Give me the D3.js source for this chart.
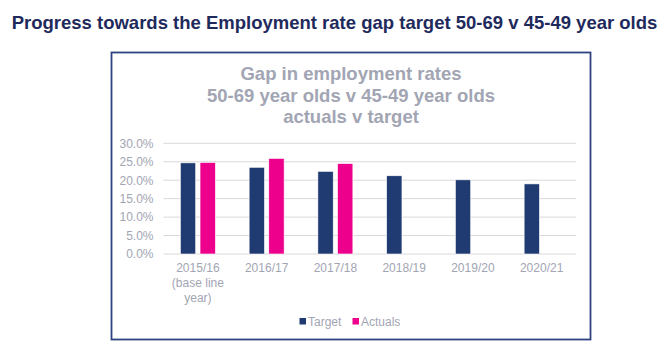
<!DOCTYPE html>
<html>
<head>
<meta charset="utf-8">
<script src="https://cdn.jsdelivr.net/npm/d3@7"></script>
<style>
  body { margin: 0; background: #fff; }
  text { font-family: "Liberation Sans", Arial, sans-serif; }
</style>
</head>
<body>
<svg id="chart"></svg>
<script>
// data
const years = ["2015/16", "2016/17", "2017/18", "2018/19", "2019/20", "2020/21"];
const target = [24.7, 23.5, 22.4, 21.2, 20.1, 19.0];
const actuals = [24.8, 25.9, 24.5, null, null, null];
const seriesNames = ["Target", "Actuals"];
const yTicks = [0, 5, 10, 15, 20, 25, 30];

const colors = { Target: "#203A72", Actuals: "#EC008C" };
const grey = "#A2A5B3";

const svg = d3.select("#chart")
    .attr("width", 669)
    .attr("height", 352);

// page heading
svg.append("text")
    .attr("x", 334.5)
    .attr("y", 29)
    .attr("text-anchor", "middle")
    .attr("font-size", "18.5px")
    .attr("font-weight", "bold")
    .attr("fill", "#1F2A5C")
    .text("Progress towards the Employment rate gap target 50-69 v 45-49 year olds");

// chart frame
svg.append("rect")
    .attr("x", 111.5)
    .attr("y", 52.5)
    .attr("width", 479)
    .attr("height", 287)
    .attr("fill", "#fff")
    .attr("stroke", "#2E4380")
    .attr("stroke-width", 1.8);

// chart title
const titleLines = ["Gap in employment rates", "50-69 year olds v 45-49 year olds", "actuals v target"];
svg.append("g").selectAll("text")
    .data(titleLines)
    .join("text")
    .attr("x", 351)
    .attr("y", (d, i) => 80 + i * 21.5)
    .attr("text-anchor", "middle")
    .attr("font-size", "18.5px")
    .attr("font-weight", "bold")
    .attr("fill", grey)
    .text(d => d);

const plot = { left: 163.5, right: 576, top: 143.3, bottom: 254 };

const x0 = d3.scaleBand()
    .domain(years)
    .range([plot.left, plot.right]);

const x1 = d3.scaleBand()
    .domain(seriesNames)
    .range([0, 35])
    .paddingInner(0.22);

const y = d3.scaleLinear()
    .domain([0, 30])
    .range([plot.bottom, plot.top]);

// gridlines
svg.append("g").selectAll("line")
    .data(yTicks)
    .join("line")
    .attr("x1", plot.left)
    .attr("x2", plot.right)
    .attr("y1", d => y(d))
    .attr("y2", d => y(d))
    .attr("stroke", "#D9D9D9")
    .attr("stroke-width", 1);

// y axis labels
const yaxis = d3.axisLeft(y)
    .tickValues(yTicks)
    .tickFormat(d => d.toFixed(1) + "%")
    .tickSize(0)
    .tickPadding(10);

svg.append("g")
    .attr("transform", `translate(${plot.left},0)`)
    .call(yaxis)
    .call(g => g.select(".domain").remove())
    .selectAll("text")
    .attr("font-size", "12px")
    .attr("font-family", "Liberation Sans, Arial, sans-serif")
    .attr("fill", grey);

// bars
const rows = years.map((yr, i) => ({ year: yr, Target: target[i], Actuals: actuals[i] }));

const groups = svg.append("g").selectAll("g")
    .data(rows)
    .join("g")
    .attr("transform", d => `translate(${x0(d.year) + x0.bandwidth() / 2 - 17.5},0)`);

groups.selectAll("rect")
    .data(d => seriesNames.filter(s => d[s] != null).map(s => ({ key: s, value: d[s] })))
    .join("rect")
    .attr("x", d => x1(d.key))
    .attr("y", d => y(d.value))
    .attr("width", x1.bandwidth())
    .attr("height", d => y(0) - y(d.value))
    .attr("fill", d => colors[d.key])
    .attr("stroke", "#fff")
    .attr("stroke-width", 0.6);

// x axis labels
const xaxis = d3.axisBottom(x0).tickSize(0).tickPadding(9);
const xg = svg.append("g")
    .attr("transform", `translate(0,${plot.bottom})`)
    .call(xaxis);
xg.select(".domain").remove();
xg.selectAll("text")
    .attr("font-size", "12px")
    .attr("font-family", "Liberation Sans, Arial, sans-serif")
    .attr("fill", grey);

// extra lines under the base year label
const baseNote = ["(base line", "year)"];
svg.append("g").selectAll("text")
    .data(baseNote)
    .join("text")
    .attr("x", x0(years[0]) + x0.bandwidth() / 2)
    .attr("y", (d, i) => 287 + i * 14.5)
    .attr("text-anchor", "middle")
    .attr("font-size", "12px")
    .attr("fill", grey)
    .text(d => d);

// legend
const legend = svg.append("g");
const legendX = [299.5, 352.5];
seriesNames.forEach((s, i) => {
    legend.append("rect")
        .attr("x", legendX[i])
        .attr("y", 318)
        .attr("width", 6.5)
        .attr("height", 6.5)
        .attr("fill", colors[s]);
    legend.append("text")
        .attr("x", legendX[i] + 8.5)
        .attr("y", 325.5)
        .attr("font-size", "12px")
        .attr("fill", grey)
        .text(s);
});
</script>
</body>
</html>
